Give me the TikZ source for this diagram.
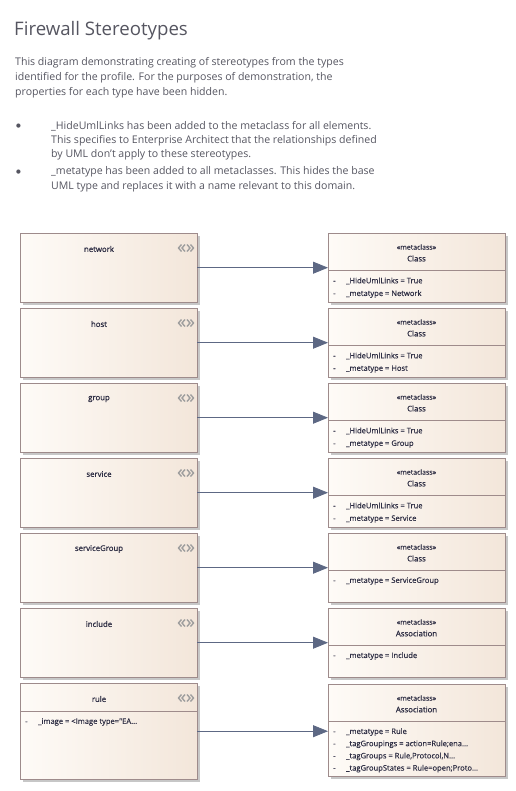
\documentclass[tikz,border=0pt]{standalone}
\usepackage{fontspec}
\setmainfont{Open Sans}
\newfontfamily\boxfont[RawFeature={embolden=0.9}]{Open Sans}
\newfontfamily\attrfont[RawFeature={embolden=0.4}]{Open Sans}
\newfontfamily\symfont{DejaVu Sans}
\usetikzlibrary{shadows,arrows.meta}
\definecolor{txt}{HTML}{555560}
\definecolor{boxtxt}{HTML}{2E2E44}
\definecolor{bord}{HTML}{9E8B8B}
\definecolor{fillL}{HTML}{FEFBF7}
\definecolor{fillR}{HTML}{F3E6DA}
\definecolor{conn}{HTML}{5D6884}
\tikzset{
  umlbox/.style={draw=bord, line width=0.8bp, shading=axis, left color=fillL, right color=fillR, shading angle=90,
    drop shadow={shadow xshift=2.5bp, shadow yshift=-2.5bp, fill=black!22, opacity=1}},
  sepline/.style={draw=bord, line width=0.8bp},
  nm/.style={font=\boxfont\fontsize{7.8}{9}\selectfont, text=boxtxt, inner sep=0pt},
  stt/.style={font=\attrfont\fontsize{7}{8}\selectfont, text=boxtxt, inner sep=0pt},
  attr/.style={font=\attrfont\fontsize{7.6}{9}\selectfont, text=boxtxt, inner sep=0pt, anchor=west},
  chev/.style={draw=black!38, line width=1.4bp, line join=miter},
  ext/.style={draw=conn, line width=0.8bp, -{Triangle[length=15bp,width=12bp,fill=conn]}},
  body/.style={font=\fontsize{10.6}{15}\selectfont, text=txt, inner sep=0pt, anchor=west},
  bul/.style={font=\symfont\fontsize{5.5}{15}\selectfont, text=txt, inner sep=0pt, anchor=west}
}
\newcommand{\eaicon}[2]{%
  \draw[chev] (#1-4.5,#2-3.5) -- (#1-7.5,#2) -- (#1-4.5,#2+3.5);
  \draw[chev] (#1-1,#2-3.5) -- (#1-4,#2) -- (#1-1,#2+3.5);
  \draw[chev] (#1+1,#2-3.5) -- (#1+4,#2) -- (#1+1,#2+3.5);
  \draw[chev] (#1+4.5,#2-3.5) -- (#1+7.5,#2) -- (#1+4.5,#2+3.5);
}
\begin{document}
\begin{tikzpicture}[x=1bp,y=-1bp]
\useasboundingbox (0,0) rectangle (516,791);
\node[font=\fontsize{18.7}{22}\selectfont, text=txt, inner sep=0pt, anchor=west] (title) at (14,31) {Firewall Stereotypes};
\node[body] (b1) at (15,63) {This diagram demonstrating creating of stereotypes from the types};
\node[body] (b2) at (15,78) {identified for the profile. For the purposes of demonstration, the};
\node[body] (b3) at (15,93) {properties for each type have been hidden.};
\node[bul] (d1) at (16,126) {●};
\node[body] (c1) at (51,126) {\_HideUmlLinks has been added to the metaclass for all elements.};
\node[body] (c2) at (51,140.5) {This specifies to Enterprise Architect that the relationships defined};
\node[body] (c3) at (51,155) {by UML don't apply to these stereotypes.};
\node[bul] (d2) at (16,172) {●};
\node[body] (c4) at (51,172) {\_metatype has been added to all metaclasses. This hides the base};
\node[body] (c5) at (51,187) {UML type and replaces it with a name relevant to this domain.};

% rows
\foreach \i/\nme/\mc/\ya/\yb [count=\k] in {
  0/network/Class/{\_HideUmlLinks = True}/{\_metatype = Network},
  1/host/Class/{\_HideUmlLinks = True}/{\_metatype = Host},
  2/group/Class/{\_HideUmlLinks = True}/{\_metatype = Group},
  3/service/Class/{\_HideUmlLinks = True}/{\_metatype = Service},
  4/serviceGroup/Class/{\_metatype = ServiceGroup}/{},
  5/include/Association/{\_metatype = Include}/{}}{
  \pgfmathsetmacro{\t}{233+75*\i}
  \path[umlbox] (20,\t) rectangle (197,\t+69);
  \node[inner sep=0pt, minimum width=177bp, minimum height=69bp, anchor=north west] (L\k) at (20,\t) {};
  \node[nm] (Ln\k) at (99,\t+16) {\nme};
  \eaicon{186}{\t+15}
  \path[umlbox] (328,\t) rectangle (505,\t+69);
  \node[inner sep=0pt, minimum width=177bp, minimum height=69bp, anchor=north west] (R\k) at (328,\t) {};
  \node[stt] (Rs\k) at (416.5,\t+14) {«metaclass»};
  \node[nm] (Rn\k) at (416.5,\t+25.5) {\mc};
  \draw[sepline] (328,\t+37) -- (505,\t+37);
  \node[attr] (Ra\k) at (333,\t+48) {-\hspace{10.5bp}\ya};
  \ifx\yb\empty\else
  \node[attr] (Rb\k) at (333,\t+61) {-\hspace{10.5bp}\yb};
  \fi
  \draw[ext] (L\k.east) -- (L\k.east -| R\k.west);
}

% rule row
\path[umlbox] (20,683) rectangle (197,779);
\node[inner sep=0pt, minimum width=177bp, minimum height=96bp, anchor=north west] (L7) at (20,683) {};
\node[nm] (Ln7) at (99,699) {rule};
\eaicon{186}{698}
\draw[sepline] (20,711) -- (197,711);
\node[attr] (La7) at (25,722) {-\hspace{10.5bp}\_image = <Image type="EA...};
\path[umlbox] (328,684) rectangle (505,776);
\node[inner sep=0pt, minimum width=177bp, minimum height=92bp, anchor=north west] (R7) at (328,684) {};
\node[stt] (Rs7) at (416.5,698) {«metaclass»};
\node[nm] (Rn7) at (416.5,709.5) {Association};
\draw[sepline] (328,721) -- (505,721);
\node[attr] (Ra7) at (333,732) {-\hspace{10.5bp}\_metatype = Rule};
\node[attr] (Rb7) at (333,744.2) {-\hspace{10.5bp}\_tagGroupings = action=Rule;ena...};
\node[attr] (Rc7) at (333,756.4) {-\hspace{10.5bp}\_tagGroups = Rule,Protocol,N...};
\node[attr] (Rd7) at (333,768.6) {-\hspace{10.5bp}\_tagGroupStates = Rule=open;Proto...};
\draw[ext] (L7.east) -- (L7.east -| R7.west);
\end{tikzpicture}
\end{document}
